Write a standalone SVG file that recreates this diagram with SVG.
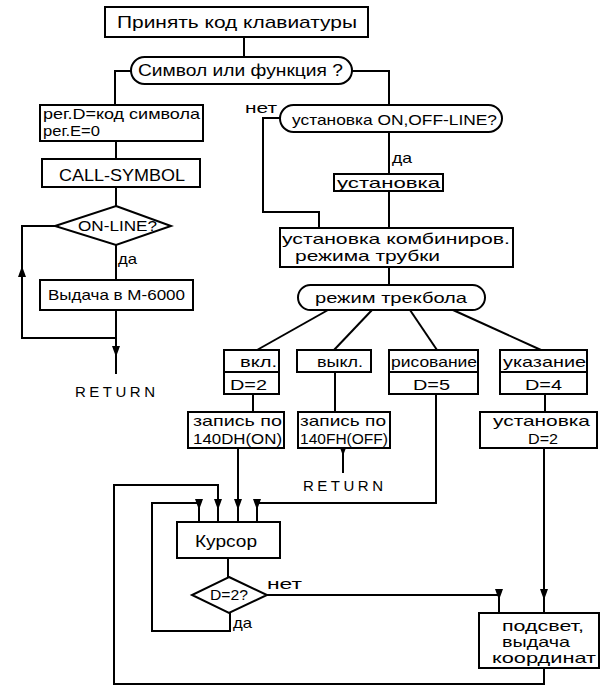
<svg xmlns="http://www.w3.org/2000/svg" width="602" height="686" viewBox="0 0 602 686">
<style>
  .b{fill:#fff;stroke:#000;stroke-width:2}
  .c{fill:none;stroke:#000;stroke-width:2}
  text{font-family:"Liberation Sans","DejaVu Sans",sans-serif;font-size:15px;fill:#000}
  .l{font-size:17px}
  .s{font-size:14px}
</style>
<defs>
  <marker id="a" markerUnits="userSpaceOnUse" markerWidth="8" markerHeight="11" refX="4" refY="11" orient="0" viewBox="0 0 8 11">
    <path d="M0,0 L8,0 L4,11 z" fill="#000"/>
  </marker>
  <marker id="u" markerUnits="userSpaceOnUse" markerWidth="8" markerHeight="11" refX="4" refY="0" orient="0" viewBox="0 0 8 11">
    <path d="M4,0 L8,11 L0,11 z" fill="#000"/>
  </marker>
</defs>

<g id="connectors">
  <path class="c" d="M244,37 V57"/>
  <path class="c" d="M131,71 H115 V105"/>
  <path class="c" d="M352,71 H389 V105"/>
  <path class="c" d="M116,141 V159"/>
  <path class="c" d="M116,187 V206"/>
  <path class="c" d="M116,245 V280"/>
  <path class="c" d="M55,226 H22 V338 H116"/>
  <path class="c" d="M22,278 V266" marker-end="url(#u)"/>
  <path class="c" d="M116,310 V357" marker-end="url(#a)"/>
  <path class="c" d="M116,357 V374"/>
  <path class="c" d="M389,132 V174"/>
  <path class="c" d="M280,118 H263 V212 H319 V228"/>
  <path class="c" d="M389,191 V228"/>
  <path class="c" d="M389,267 V285"/>
  <path class="c" d="M328,310 L257,350"/>
  <path class="c" d="M372,310 L334,350"/>
  <path class="c" d="M410,310 L437,350"/>
  <path class="c" d="M453,310 L541,350"/>
  <path class="c" d="M253,394 V412"/>
  <path class="c" d="M335,372 V412"/>
  <path class="c" d="M343,448 V456" marker-end="url(#a)"/>
  <path class="c" d="M343,456 V473"/>
  <path class="c" d="M238,448 V510" marker-end="url(#a)"/>
  <path class="c" d="M238,510 V522"/>
  <path class="c" d="M436,394 V503 H257 V510" marker-end="url(#a)"/>
  <path class="c" d="M257,510 V522"/>
  <path class="c" d="M545,394 V412"/>
  <path class="c" d="M544,448 V600" marker-end="url(#a)"/>
  <path class="c" d="M544,600 V613"/>
  <path class="c" d="M228,558 V577"/>
  <path class="c" d="M267,595 H499 V600" marker-end="url(#a)"/>
  <path class="c" d="M499,600 V613"/>
  <path class="c" d="M230,613 V631 H152 V503 H199 V510" marker-end="url(#a)"/>
  <path class="c" d="M199,510 V522"/>
  <path class="c" d="M544,668 V684 H114 V485 H218 V510" marker-end="url(#a)"/>
  <path class="c" d="M218,510 V522"/>
</g>

<g id="n-start">
  <rect class="b" x="105" y="7" width="263" height="30"/>
  <text class="l" x="117" y="28" textLength="240" lengthAdjust="spacingAndGlyphs">Принять код клавиатуры</text>
</g>
<g id="n-symfunc">
  <rect class="b" x="131" y="57" width="221" height="27" rx="13.5"/>
  <text class="l" x="138" y="76" textLength="205" lengthAdjust="spacingAndGlyphs">Символ или функция ?</text>
</g>
<g id="n-regs">
  <rect class="b" x="40" y="105" width="163" height="36"/>
  <text x="43" y="119" textLength="157" lengthAdjust="spacingAndGlyphs">рег.D=код символа</text>
  <text x="43" y="136" textLength="57" lengthAdjust="spacingAndGlyphs">рег.E=0</text>
</g>
<g id="n-callsymbol">
  <rect class="b" x="42" y="159" width="158" height="28"/>
  <text class="l" x="59" y="181" textLength="126" lengthAdjust="spacingAndGlyphs">CALL-SYMBOL</text>
</g>
<g id="n-online">
  <polygon class="b" points="116,206 171,226 116,245 55,226"/>
  <text x="78" y="231" textLength="79" lengthAdjust="spacingAndGlyphs">ON-LINE?</text>
  <text x="118" y="264" textLength="19" lengthAdjust="spacingAndGlyphs">да</text>
</g>
<g id="n-output">
  <rect class="b" x="40" y="280" width="153" height="30"/>
  <text x="48" y="300" textLength="137" lengthAdjust="spacingAndGlyphs">Выдача в М-6000</text>
</g>
<g id="n-return1">
  <text x="75" y="397" textLength="80" lengthAdjust="spacing">RETURN</text>
</g>
<g id="n-setonoff">
  <rect class="b" x="280" y="105" width="222" height="27" rx="13.5"/>
  <text x="292" y="125" textLength="205" lengthAdjust="spacingAndGlyphs">установка ON,OFF-LINE?</text>
  <text class="s" x="245" y="113" textLength="32" lengthAdjust="spacingAndGlyphs">нет</text>
  <text x="392" y="163" textLength="20" lengthAdjust="spacingAndGlyphs">да</text>
</g>
<g id="n-set">
  <rect class="b" x="334" y="174" width="109" height="17"/>
  <text x="337" y="188" textLength="103" lengthAdjust="spacingAndGlyphs">установка</text>
</g>
<g id="n-combo">
  <rect class="b" x="280" y="228" width="233" height="39"/>
  <text x="282" y="244" textLength="228" lengthAdjust="spacingAndGlyphs">установка комбиниров.</text>
  <text x="295" y="261" textLength="145" lengthAdjust="spacingAndGlyphs">режима трубки</text>
</g>
<g id="n-trackball">
  <rect class="b" x="298" y="285" width="187" height="25" rx="12.5"/>
  <text x="315" y="303" textLength="152" lengthAdjust="spacingAndGlyphs">режим трекбола</text>
</g>
<g id="n-on">
  <rect class="b" x="224" y="350" width="55" height="44"/>
  <path class="c" d="M224,372 H279"/>
  <text x="240" y="367" textLength="37" lengthAdjust="spacingAndGlyphs">вкл.</text>
  <text x="230" y="390" textLength="37" lengthAdjust="spacingAndGlyphs">D=2</text>
</g>
<g id="n-off">
  <rect class="b" x="297" y="350" width="74" height="22"/>
  <text x="317" y="367" textLength="46" lengthAdjust="spacingAndGlyphs">выкл.</text>
</g>
<g id="n-draw">
  <rect class="b" x="389" y="350" width="89" height="44"/>
  <path class="c" d="M389,372 H478"/>
  <text x="391" y="367" textLength="86" lengthAdjust="spacingAndGlyphs">рисование</text>
  <text x="413" y="390" textLength="37" lengthAdjust="spacingAndGlyphs">D=5</text>
</g>
<g id="n-point">
  <rect class="b" x="500" y="350" width="87" height="44"/>
  <path class="c" d="M500,372 H587"/>
  <text x="503" y="367" textLength="83" lengthAdjust="spacingAndGlyphs">указание</text>
  <text x="525" y="390" textLength="37" lengthAdjust="spacingAndGlyphs">D=4</text>
</g>
<g id="n-write-on">
  <rect class="b" x="188" y="412" width="96" height="36"/>
  <text x="193" y="426" textLength="89" lengthAdjust="spacingAndGlyphs">запись по</text>
  <text x="193" y="444" textLength="89" lengthAdjust="spacingAndGlyphs">140DH(ON)</text>
</g>
<g id="n-write-off">
  <rect class="b" x="298" y="412" width="92" height="36"/>
  <text x="300" y="426" textLength="86" lengthAdjust="spacingAndGlyphs">запись по</text>
  <text x="300" y="444" textLength="88" lengthAdjust="spacingAndGlyphs">140FH(OFF)</text>
</g>
<g id="n-return2">
  <text x="303" y="491" textLength="80" lengthAdjust="spacing">RETURN</text>
</g>
<g id="n-set2">
  <rect class="b" x="480" y="412" width="117" height="36"/>
  <text x="493" y="426" textLength="97" lengthAdjust="spacingAndGlyphs">установка</text>
  <text x="528" y="444" textLength="30" lengthAdjust="spacingAndGlyphs">D=2</text>
</g>
<g id="n-cursor">
  <rect class="b" x="177" y="522" width="103" height="36"/>
  <text class="l" x="195" y="547" textLength="62" lengthAdjust="spacingAndGlyphs">Курсор</text>
</g>
<g id="n-d2">
  <polygon class="b" points="229,577 267,595 229,613 192,595"/>
  <text x="210" y="600" textLength="38" lengthAdjust="spacingAndGlyphs">D=2?</text>
  <text class="s" x="267" y="589" textLength="35" lengthAdjust="spacingAndGlyphs">нет</text>
  <text x="233" y="628" textLength="19" lengthAdjust="spacingAndGlyphs">да</text>
</g>
<g id="n-highlight">
  <rect class="b" x="479" y="613" width="120" height="55"/>
  <text x="502" y="631" textLength="82" lengthAdjust="spacingAndGlyphs">подсвет,</text>
  <text x="502" y="647" textLength="68" lengthAdjust="spacingAndGlyphs">выдача</text>
  <text x="492" y="663" textLength="104" lengthAdjust="spacingAndGlyphs">координат</text>
</g>
</svg>
